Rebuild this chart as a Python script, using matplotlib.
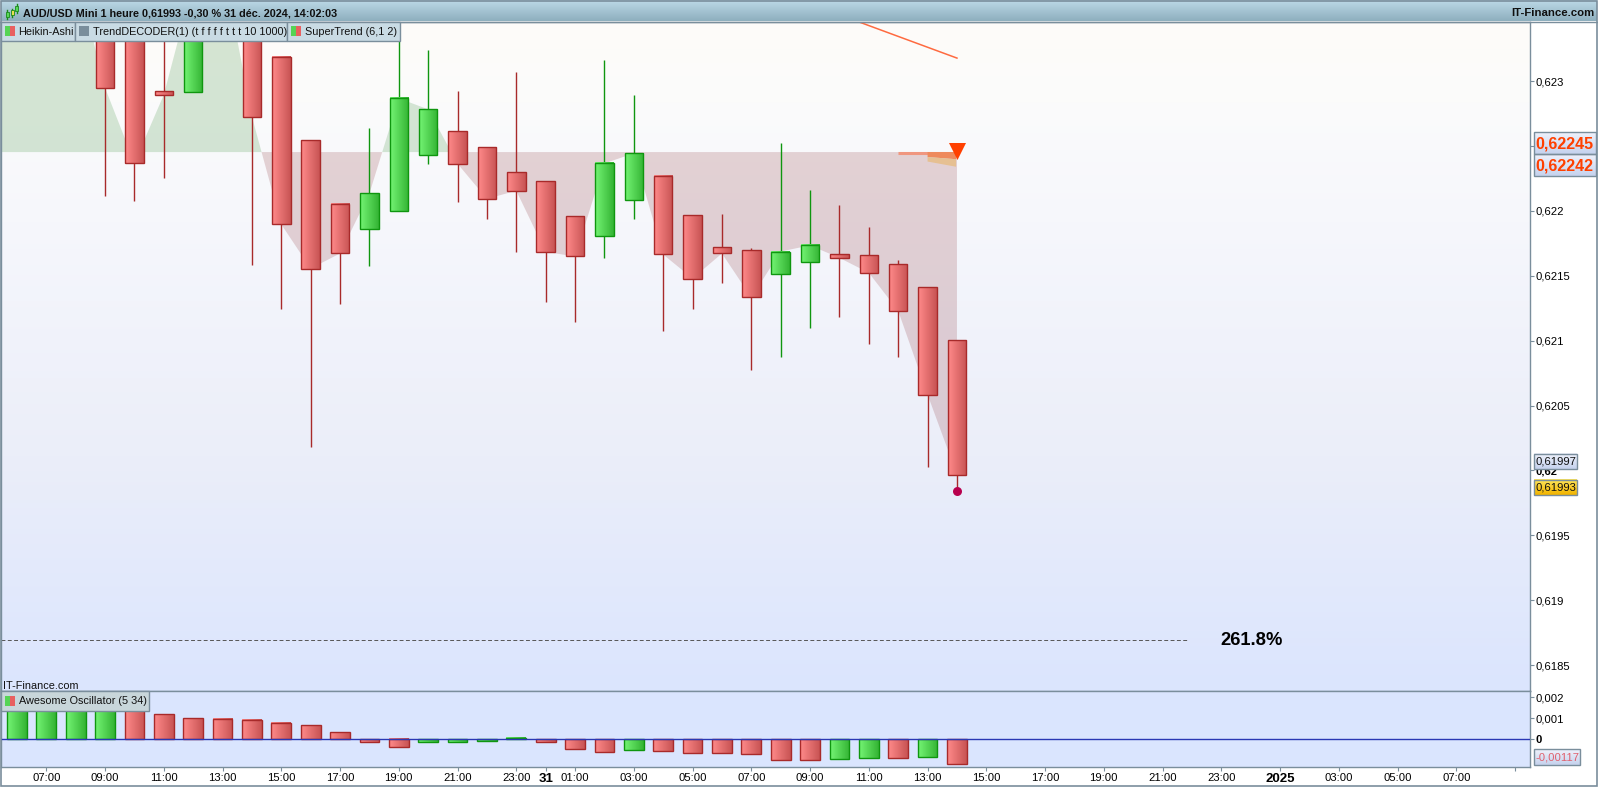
#!/usr/bin/env python3
"""
AUD/USD Mini 1 heure - Heikin-Ashi chart with Awesome Oscillator
"""

import numpy as np
import matplotlib
matplotlib.use('Agg')
import matplotlib.pyplot as plt
from matplotlib.colors import LinearSegmentedColormap
from matplotlib.patches import Rectangle, Polygon

plt.rcParams['font.family'] = ['Liberation Sans', 'DejaVu Sans']

# ===== DATA =====
# hours counted from 00:00 on 30 Dec, 24 is the 31st at 00:00
hours = list(range(5, 39))

opens = [0.62440, 0.62435, 0.62425, 0.62415, 0.623778, 0.623855, 0.622921, 0.622913, 0.624087,
         0.623701, 0.623183, 0.622543, 0.622050, 0.621857, 0.621996, 0.622432, 0.622612, 0.622491,
         0.622296, 0.622227, 0.621957, 0.621803, 0.622081, 0.622266, 0.621965, 0.621718, 0.621695,
         0.621515, 0.621603, 0.621664, 0.621657, 0.621587, 0.621410, 0.621002]
closes = [0.62435, 0.62425, 0.62415, 0.623855, 0.622948, 0.622370, 0.622894, 0.623755, 0.623909,
          0.622725, 0.621896, 0.621556, 0.621672, 0.622134, 0.622867, 0.622782, 0.622363, 0.622093,
          0.622155, 0.621684, 0.621649, 0.622366, 0.622443, 0.621664, 0.621479, 0.621672, 0.621333,
          0.621687, 0.621734, 0.621638, 0.621523, 0.621230, 0.620585, 0.619969]
highs = [0.62450, 0.62445, 0.62435, 0.62425, 0.623778, 0.623855, 0.623701, 0.623755, 0.624087,
         0.623701, 0.623183, 0.622543, 0.622050, 0.622638, 0.623393, 0.623239, 0.622923, 0.622491,
         0.623069, 0.622227, 0.621957, 0.623162, 0.622892, 0.622266, 0.621965, 0.621975, 0.621713,
         0.622522, 0.622160, 0.622044, 0.621875, 0.621620, 0.621410, 0.621002]
lows = [0.62430, 0.62420, 0.62410, 0.62380, 0.622116, 0.622077, 0.622255, 0.622913, 0.623909,
        0.621584, 0.621245, 0.620182, 0.621284, 0.621577, 0.621996, 0.622363, 0.622070, 0.621939,
        0.621684, 0.621299, 0.621145, 0.621638, 0.621939, 0.621076, 0.621245, 0.621445, 0.620773,
        0.620875, 0.621099, 0.621183, 0.620975, 0.620875, 0.620027, 0.619842]

trend_level = 0.622453
fib_level = 0.618692
fib_end = 45.9
fib_label_at = 46.95
supertrend_hours = [34, 38]
supertrend_values = [0.623511, 0.623177]
last_dot = 0.619842

ao_hours = list(range(6, 39))
ao_values = [0.00145, 0.00145, 0.00145, 0.00145, 0.00145, 0.00118, 0.00099, 0.00095, 0.00090,
             0.00076, 0.00066, 0.00033, -0.00014, -0.00038, -0.00014, -0.00014, -0.00006, 0.00006,
             -0.00014, -0.00044, -0.00059, -0.00049, -0.00054, -0.00063, -0.00063, -0.00068,
             -0.00096, -0.00096, -0.00091, -0.00087, -0.00087, -0.00082, -0.00115]
ao_up = [1, 1, 1, 1, 0, 0, 0, 0, 0, 0, 0, 0, 0, 0, 1, 1, 1, 1, 0, 0, 0, 1, 0, 0, 0, 0, 0, 0, 1, 1, 0, 1, 0]

price_ticks = [0.623, 0.6225, 0.622, 0.6215, 0.621, 0.6205, 0.62, 0.6195, 0.619, 0.6185]
# the 0,6225 label sits behind the value boxes, only its tick shows
price_labels = ['0,623', '', '0,622', '0,6215', '0,621', '0,6205', '0,62', '0,6195', '0,619', '0,6185']
ao_ticks = [0.002, 0.001, 0]
ao_labels = ['0,002', '0,001', '0']
time_ticks = [7, 9, 11, 13, 15, 17, 19, 21, 23, 24, 25, 27, 29, 31, 33, 35, 37, 39, 41, 43, 45, 47, 49, 51, 53, 55, 57]
time_labels = ['07:00', '09:00', '11:00', '13:00', '15:00', '17:00', '19:00', '21:00', '23:00', '31',
               '01:00', '03:00', '05:00', '07:00', '09:00', '11:00', '13:00', '15:00', '17:00', '19:00',
               '21:00', '23:00', '2025', '03:00', '05:00', '07:00', '']

# ===== COLORS =====
COLOR_FRAME = '#7a8e9c'
RED_GRAD = LinearSegmentedColormap.from_list('r', ['#ff8a8a', '#c85454'])
GREEN_GRAD = LinearSegmentedColormap.from_list('g', ['#74f474', '#34b434'])
RED_EDGE = '#a82a2a'
GREEN_EDGE = '#0f960f'
ORANGE = '#ff4000'

W, H = 1598, 787
fig = plt.figure(figsize=(W / 100, H / 100), dpi=100, facecolor='white')


def px_axes(x0, y0, x1, y1, **kw):
    return fig.add_axes([x0 / W, 1 - y1 / H, (x1 - x0) / W, (y1 - y0) / H], **kw)


ax = px_axes(1, 22, 1529.5, 691.3)
osc = px_axes(1, 691.3, 1529.5, 766.6)
XLIM = (5.458, 57.49)
YLIM = (0.618299, 0.623455)
OSC_YLIM = (-0.00129, 0.00227)

# background gradient
bg_cmap = LinearSegmentedColormap.from_list(
    'bg', [(0, '#fefcf9'), (0.12, '#fbfbfb'), (0.3, '#f6f7fc'), (0.65, '#ebeef9'), (1, '#dbe5fe')])
ax.imshow(np.linspace(0, 1, 256).reshape(-1, 1), extent=[*XLIM, *YLIM], aspect='auto',
          cmap=bg_cmap, zorder=0)
osc.set_facecolor('#dae5fe')


def gradient_box(axis, x0, x1, y0, y1, cmap, edge, zorder=3):
    axis.imshow(np.linspace(0, 1, 32).reshape(1, -1), extent=[x0, x1, y0, y1], aspect='auto',
                cmap=cmap, zorder=zorder)
    axis.add_patch(Rectangle((x0, y0), x1 - x0, y1 - y0, fill=False, edgecolor=edge,
                             linewidth=1.0, zorder=zorder + 0.1))


# TrendDECODER area between the level and the closes
ax.fill_between(hours, trend_level, closes, where=np.array(closes) >= trend_level, interpolate=True,
                color=(55 / 255, 140 / 255, 55 / 255, 0.2), linewidth=0, zorder=1)
ax.fill_between(hours, trend_level, closes, where=np.array(closes) <= trend_level, interpolate=True,
                color=(140 / 255, 50 / 255, 55 / 255, 0.2), linewidth=0, zorder=1)

# candles
BODY = 0.315
for h, o, c, hi, lo in zip(hours, opens, closes, highs, lows):
    up = c > o
    edge = GREEN_EDGE if up else RED_EDGE
    ax.plot([h, h], [lo, hi], color=edge, linewidth=1.0, solid_capstyle='butt', zorder=2)
    gradient_box(ax, h - BODY, h + BODY, min(o, c), max(o, c), GREEN_GRAD if up else RED_GRAD, edge)

# TrendDECODER target zone
ax.plot([36.0, 38.0], [trend_level - 0.000005, trend_level - 0.000005], color='#f0977f', linewidth=2.2,
        solid_capstyle='butt', zorder=4)
ax.add_patch(Polygon([(37.0, 0.622453), (37.97, 0.622453), (37.97, 0.622398), (37.0, 0.622415)],
                     facecolor='#ee8a5c', edgecolor='none', zorder=4))
ax.add_patch(Polygon([(37.0, 0.622415), (37.97, 0.622398), (37.97, 0.622340), (37.0, 0.622380)],
                     facecolor='#e6c092', edgecolor='none', zorder=4))
ax.plot(supertrend_hours, supertrend_values, color='#ff6a40', linewidth=1.1, zorder=4)
ax.scatter([38], [trend_level + 0.000005], marker='v', s=150, color=ORANGE, linewidth=0, zorder=5)
ax.scatter([38], [last_dot], marker='o', s=42, color='#b8004e', linewidth=0, zorder=5)

# fibonacci line
ax.plot([XLIM[0], fib_end], [fib_level, fib_level], color='#555555', linewidth=0.7,
        linestyle=(0, (4, 2.5)), zorder=2)
ax.text(fib_label_at, fib_level, '261.8%', fontsize=13.2, weight='bold', va='center', ha='left', color='black')

ax.set_xlim(*XLIM)
ax.set_ylim(*YLIM)
ax.set_xticks([])
ax.yaxis.tick_right()
ax.set_yticks(price_ticks)
ax.set_yticklabels(price_labels, fontsize=8.1)
ax.tick_params(axis='y', length=3, width=0.8, pad=1.2, color=COLOR_FRAME)
ax.get_yticklabels()[price_labels.index('0,62')].set_fontweight('bold')

# ===== AWESOME OSCILLATOR =====
for h, v, up in zip(ao_hours, ao_values, ao_up):
    gradient_box(osc, h - 0.335, h + 0.335, min(v, 0), max(v, 0), GREEN_GRAD if up else RED_GRAD,
                 GREEN_EDGE if up else RED_EDGE)
osc.axhline(0, color='#2a38b4', linewidth=1.0, zorder=5)
osc.set_xlim(*XLIM)
osc.set_ylim(*OSC_YLIM)
osc.yaxis.tick_right()
osc.set_yticks(ao_ticks)
osc.set_yticklabels(ao_labels, fontsize=8.1)
osc.get_yticklabels()[2].set_fontweight('bold')
osc.tick_params(axis='y', length=3, width=0.8, pad=1.2, color=COLOR_FRAME)
osc.set_xticks(time_ticks)
osc.set_xticklabels(time_labels, fontsize=8.1)
osc.tick_params(axis='x', length=3, width=0.8, pad=1.5, color=COLOR_FRAME)
for lab in osc.get_xticklabels():
    if lab.get_text() in ('31', '2025'):
        lab.set_fontweight('bold')
        lab.set_fontsize(9.5)

for a in (ax, osc):
    for s in a.spines.values():
        s.set_color(COLOR_FRAME)
        s.set_linewidth(1.0)

# ===== CHROME (title bar, legend tabs, value boxes), in pixels =====
top = fig.add_axes([0, 0, 1, 1], zorder=10)
top.set_xlim(0, W)
top.set_ylim(H, 0)
top.axis('off')
top.patch.set_alpha(0)

title_cmap = LinearSegmentedColormap.from_list('t', ['#bcd9e7', '#8eafbe'])
top.imshow(np.linspace(0, 1, 32).reshape(-1, 1), extent=[1, W - 1, 21.5, 1], aspect='auto',
           cmap=title_cmap, origin='upper', zorder=1)
top.set_xlim(0, W)
top.set_ylim(H, 0)
top.add_patch(Rectangle((0.5, 0.5), W - 1.5, H - 1.5, fill=False, edgecolor=COLOR_FRAME, linewidth=1.2, zorder=8))
top.plot([0, W], [21.5, 21.5], color=COLOR_FRAME, linewidth=1.0, zorder=2)

top.text(23, 13, 'AUD/USD Mini 1 heure 0,61993 -0,30 % 31 déc. 2024, 14:02:03', fontsize=7.85,
         weight='bold', va='center', ha='left', color='#101010', zorder=3)
top.text(1595, 13, 'IT-Finance.com', fontsize=8.2, weight='bold', va='center', ha='right',
         color='#101010', zorder=3)

# small candle icon in the title bar
top.plot([7, 7], [10, 19], color='#1a8a1a', linewidth=1.0, zorder=3)
top.add_patch(Rectangle((5.5, 12), 3, 5, facecolor='#58d858', edgecolor='#1a8a1a', linewidth=0.6, zorder=4))
top.plot([12, 12], [9, 17], color='#1a8a1a', linewidth=1.0, zorder=3)
top.add_patch(Rectangle((10.5, 10), 3, 5, facecolor='#e8e050', edgecolor='#1a8a1a', linewidth=0.6, zorder=4))
top.plot([16.5, 16.5], [4, 13], color='#1a8a1a', linewidth=1.0, zorder=3)
top.add_patch(Rectangle((15, 6), 3, 5, facecolor='#58d858', edgecolor='#1a8a1a', linewidth=0.6, zorder=4))


def tab(x0, x1, y0, y1, label, text_x, icon_x, fill='#c9dbe4', gray=False):
    top.add_patch(Rectangle((x0, y0), x1 - x0, y1 - y0, facecolor=fill, edgecolor=COLOR_FRAME,
                            linewidth=1.0, zorder=3))
    yc = (y0 + y1) / 2
    if gray:
        top.add_patch(Rectangle((icon_x, yc - 5), 10, 10, facecolor=COLOR_FRAME, edgecolor='none', zorder=4))
    else:
        top.add_patch(Rectangle((icon_x, yc - 5), 5, 10, facecolor='#55d455', edgecolor='none', zorder=4))
        top.add_patch(Rectangle((icon_x + 5, yc - 5), 5, 10, facecolor='#e86060', edgecolor='none', zorder=4))
    top.text(text_x, yc + 0.3, label, fontsize=7.8, va='center', ha='left', color='#111111', zorder=5)


tab(1, 74.5, 22, 40.7, 'Heikin-Ashi', 18.5, 5)
tab(74.5, 286.5, 22, 40.7, 'TrendDECODER(1) (t f f f f t t t 10 1000)', 92.7, 79, gray=True)
tab(286.5, 399.5, 22, 40.7, 'SuperTrend (6,1 2)', 304.7, 291)
tab(1, 149, 691.3, 710.7, 'Awesome Oscillator (5 34)', 19, 5, fill='#c8d6da')
top.text(2.5, 685.7, 'IT-Finance.com', fontsize=7.8, va='center', ha='left', color='#111111', zorder=5)


def value_box(x0, x1, y0, y1, label, color, size, weight='normal', colors=('#eef1fb', '#c6d3ee')):
    cmap = LinearSegmentedColormap.from_list('v', list(colors))
    top.imshow(np.linspace(0, 1, 16).reshape(-1, 1), extent=[x0, x1, y1, y0], aspect='auto',
               cmap=cmap, origin='upper', zorder=6)
    top.add_patch(Rectangle((x0, y0), x1 - x0, y1 - y0, fill=False, edgecolor=COLOR_FRAME, linewidth=1.0, zorder=7))
    top.text(x0 + 1.5, (y0 + y1) / 2 + 0.3, label, color=color, fontsize=size, weight=weight,
             va='center', ha='left', zorder=8)


value_box(1534, 1595.7, 132.3, 154.3, '0,62245', ORANGE, 11.6, 'bold')
value_box(1534, 1595.7, 154.3, 176.3, '0,62242', ORANGE, 11.6, 'bold')
value_box(1534.3, 1576.7, 453.7, 469.3, '0,61997', '#111111', 8.1)
value_box(1534.3, 1576.7, 479.7, 495.3, '0,61993', '#111111', 8.1, colors=('#ffe65a', '#f2b400'))
value_box(1534, 1580.3, 749.3, 765.3, '-0,00117', '#e0606e', 8.1)
top.set_xlim(0, W)
top.set_ylim(H, 0)

fig.savefig('out.png', dpi=100, facecolor='white')
plt.close()
